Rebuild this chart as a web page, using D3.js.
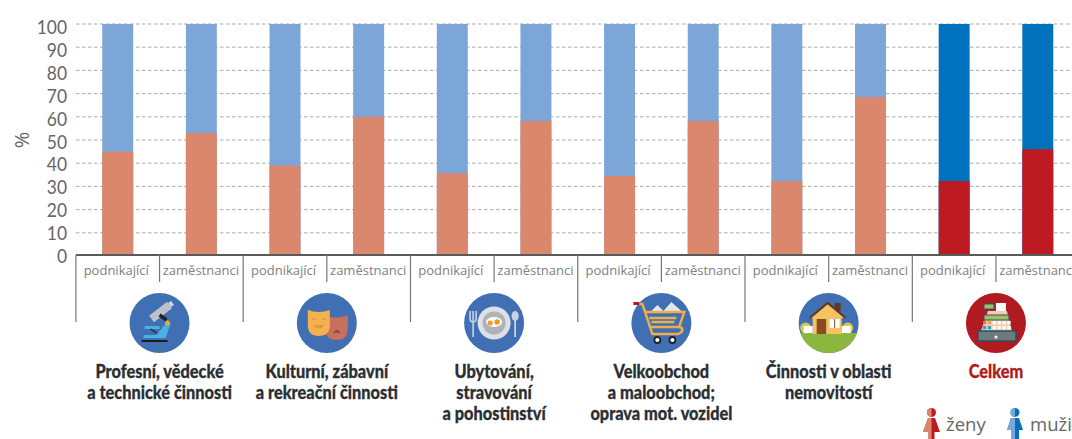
<!DOCTYPE html>
<html>
<head>
<meta charset="utf-8">
<script src="https://cdn.jsdelivr.net/npm/d3@7"></script>
<style>
  html, body { margin: 0; padding: 0; background: #fff; overflow: hidden; }
  svg { display: block; }
  text { font-family: "Open Sans", "Noto Sans", sans-serif; }
  text.lato { font-family: Lato, "Open Sans", sans-serif; }
</style>
</head>
<body>
<svg id="chart"></svg>
<script>
let width = 1072,
    height = 439;

const groups = [
    ["Profesní, vědecké", "a technické činnosti"],
    ["Kulturní, zábavní", "a rekreační činnosti"],
    ["Ubytování,", "stravování", "a pohostinství"],
    ["Velkoobchod", "a maloobchod;", "oprava mot. vozidel"],
    ["Činnosti v oblasti", "nemovitostí"],
    ["Celkem"],
];
const subLabels = ["podnikající", "zaměstnanci"];
const women = [45, 53, 39, 60, 35.7, 58.2, 34.5, 58.2, 32.3, 68.5, 32.3, 46];
const yTicks = [0, 10, 20, 30, 40, 50, 60, 70, 80, 90, 100];

const svg = d3.select("#chart").attr("width", width).attr("height", height);

const x = d3.scaleBand()
    .domain(d3.range(women.length))
    .range([75.9, 1079.6])
    .paddingInner(0.63)
    .paddingOuter(0.315);
const y = d3.scaleLinear().domain([0, 100]).range([256, 24]);
// the tick labels sit on a slightly tighter scale than the gridlines in the original
const yLabel = d3.scaleLinear().domain([0, 100]).range([263, 34]);

const step = x.step();
const left = i => x(i) - (step - x.bandwidth()) / 2;

// Gridlines
svg.append("g")
    .selectAll("line")
    .data(yTicks.slice(1))
    .enter()
    .append("line")
    .attr("x1", 76)
    .attr("x2", 1070)
    .attr("y1", d => y(d))
    .attr("y2", d => y(d))
    .attr("stroke", "#aaa")
    .attr("stroke-dasharray", "3.5 2.5");

// Stacked bars, muted for sectors, saturated for the total
const isTotal = i => i >= 10;
const bars = svg.append("g").selectAll("g").data(women).enter().append("g");
bars.append("rect")
    .attr("x", (d, i) => x(i))
    .attr("width", x.bandwidth())
    .attr("y", y(100))
    .attr("height", y(0) - y(100))
    .attr("fill", (d, i) => (isTotal(i) ? "#0071bc" : "#7ca5d8"));
bars.append("rect")
    .attr("x", (d, i) => x(i))
    .attr("width", x.bandwidth())
    .attr("y", d => y(d))
    .attr("height", d => y(0) - y(d))
    .attr("fill", (d, i) => (isTotal(i) ? "#bd1b21" : "#db876e"));

// Y tick labels, narrowed to the original's proportions
svg.append("g")
    .selectAll("text")
    .data(yTicks)
    .enter()
    .append("text")
    .attr("class", "lato")
    .attr("transform", d => `translate(67,${yLabel(d)}) scale(0.87,1)`)
    .attr("text-anchor", "end")
    .attr("font-size", 20)
    .attr("fill", "#666")
    .text(d => d);

svg.append("text")
    .attr("transform", "translate(29,140) rotate(-90)")
    .attr("text-anchor", "middle")
    .attr("font-size", 20)
    .attr("fill", "#666")
    .text("%");

// Axis line and separators
svg.append("line")
    .attr("x1", 76).attr("x2", 1072)
    .attr("y1", 255).attr("y2", 255)
    .attr("stroke", "#5a5a5a").attr("stroke-width", 2);

svg.append("g")
    .selectAll("line")
    .data(d3.range(women.length))
    .enter()
    .append("line")
    .attr("x1", i => left(i))
    .attr("x2", i => left(i))
    .attr("y1", 255)
    .attr("y2", i => (i % 2 == 0 ? 322 : 282))
    .attr("stroke", "#777")
    .attr("stroke-width", 1.2);

svg.append("g")
    .selectAll("text")
    .data(d3.range(women.length))
    .enter()
    .append("text")
    .attr("x", i => x(i) + x.bandwidth() / 2 + (i % 2 == 0 ? -1.5 : -0.5))
    .attr("y", 275)
    .attr("text-anchor", "middle")
    .attr("font-size", 13)
    .attr("fill", "#808080")
    .text(i => subLabels[i % 2]);

// Icons
const blue = "#416fb4";
const iconFns = [
    g => {
        g.append("line").attr("x1", -8).attr("y1", -4).attr("x2", 10).attr("y2", -18)
            .attr("stroke", "#bcc2cc").attr("stroke-width", 8);
        g.append("line").attr("x1", 10).attr("y1", -18).attr("x2", 13).attr("y2", -20)
            .attr("stroke", "#d5d8de").attr("stroke-width", 5);
        g.append("line").attr("x1", 0).attr("y1", -8).attr("x2", 7).attr("y2", -3)
            .attr("stroke", "#222").attr("stroke-width", 3.5);
        g.append("path").attr("d", "M8,-2 L11,1 L6,15 L-16,15 L-16,12 L-3,12 Z").attr("fill", "#4bb0e3");
        g.append("rect").attr("x", -15).attr("y", 3).attr("width", 15).attr("height", 3).attr("fill", "#4bb0e3");
        g.append("line").attr("x1", -9).attr("y1", 6).attr("x2", -3).attr("y2", 10)
            .attr("stroke", "#222").attr("stroke-width", 1.5);
        g.append("circle").attr("cx", 8).attr("cy", 0).attr("r", 2.5).attr("fill", "#f0a830");
        g.append("rect").attr("x", -18).attr("y", 17).attr("width", 26).attr("height", 2).attr("fill", "#1c1c1c");
    },
    g => {
        g.append("path").attr("d", "M-2,-8 Q10,-3 21,-8 L21,5 Q21,17 10,17 Q-2,17 -2,5 Z").attr("fill", "#c8705c");
        g.append("path").attr("d", "M6,10 Q10,3 14,10 Z").attr("fill", "#9a4a3c");
        g.append("path").attr("d", "M-19,-13 Q-8,-9 3,-13 L3,2 Q3,13 -8,13 Q-19,13 -19,2 Z").attr("fill", "#f5b14f");
        g.append("path").attr("d", "M-14,2 Q-8,9 -2,2 Z").attr("fill", "#d99a3e");
        g.append("path").attr("d", "M-15,-4 L-11,-4 M-5,-4 L-1,-4").attr("stroke", "#d99a3e").attr("stroke-width", 1.5);
    },
    g => {
        g.append("circle").attr("r", 16.5).attr("fill", "#dde0e5");
        g.append("circle").attr("r", 11.5).attr("fill", "#aeb3ba");
        g.append("ellipse").attr("cx", 0).attr("cy", -1).attr("rx", 8).attr("ry", 5).attr("fill", "#fff");
        g.append("circle").attr("cx", -4).attr("cy", 0).attr("r", 2.6).attr("fill", "#ef9a2a");
        g.append("circle").attr("cx", 3).attr("cy", -1).attr("r", 2.8).attr("fill", "#ef9a2a");
        g.append("path").attr("d", "M-24,-12 V-4 Q-24,-1 -21,-1 Q-18,-1 -18,-4 V-12 M-21,-12 V14")
            .attr("fill", "none").attr("stroke", "#c9d3e6").attr("stroke-width", 1.6);
        g.append("ellipse").attr("cx", 21).attr("cy", -7).attr("rx", 3.6).attr("ry", 5).attr("fill", "#c9d3e6");
        g.append("line").attr("x1", 21).attr("x2", 21).attr("y1", -3).attr("y2", 14)
            .attr("stroke", "#c9d3e6").attr("stroke-width", 1.8);
    },
    g => {
        g.append("path").attr("d", "M-11,-11 L-4,-18 L2,-12 L10,-21 L21,-11 Z").attr("fill", "#e4e7ee");
        g.append("path").attr("d", "M-23,-19 H-19 L-9,11 H17 Q21,9 21,7 Q21,4 17,4 H-12 M-17,-11 H23 L18,3")
            .attr("fill", "none").attr("stroke", "#f0ae4a").attr("stroke-width", 2.4);
        g.append("path").attr("d", "M-12,-5 H15 M-10,-1 H13").attr("stroke", "#f0ae4a").attr("stroke-width", 2.4);
        g.append("rect").attr("x", -28).attr("y", -21).attr("width", 6).attr("height", 3).attr("fill", "#b01a20");
        [-4, 11].forEach(cx => {
            g.append("circle").attr("cx", cx).attr("cy", 17).attr("r", 3).attr("fill", "#fff")
                .attr("stroke", "#222").attr("stroke-width", 1.8);
        });
    },
    g => {
        g.append("path").attr("d", "M-28.3,10 H28.3 A30,30 0 0 1 -28.3,10 Z").attr("fill", "#8bb63f");
        g.append("circle").attr("cx", -23).attr("cy", 5).attr("r", 5.5).attr("fill", "#dac94a");
        g.append("circle").attr("cx", 19).attr("cy", 5).attr("r", 5.5).attr("fill", "#dac94a");
        g.append("rect").attr("x", 6).attr("y", -20).attr("width", 6).attr("height", 8).attr("fill", "#5e3b20");
        g.append("rect").attr("x", -16).attr("y", -7).attr("width", 29).attr("height", 18).attr("fill", "#f7c263");
        g.append("path").attr("d", "M-19,-5 L-1,-20 L17,-5").attr("fill", "#f7c263").attr("stroke", "#5e3b20").attr("stroke-width", 2.2);
        g.append("rect").attr("x", -12).attr("y", -4).attr("width", 9.5).attr("height", 15).attr("fill", "#8b4a20");
        g.append("rect").attr("x", 1).attr("y", -4).attr("width", 10).attr("height", 9).attr("fill", "#fff");
        g.append("line").attr("x1", 6).attr("x2", 6).attr("y1", -4).attr("y2", 5).attr("stroke", "#6a5030");
        [-25, 13].forEach(fx => {
            g.append("rect").attr("x", fx).attr("y", 3).attr("width", 9).attr("height", 7).attr("fill", "#fff");
        });
    },
    g => {
        g.append("rect").attr("x", -12).attr("y", -19).attr("width", 10).attr("height", 5).attr("fill", "#a6bd6a")
            .attr("stroke", "#2f5560").attr("stroke-width", 1);
        g.append("rect").attr("x", 0).attr("y", -20).attr("width", 10).attr("height", 9).attr("fill", "#fff");
        g.append("path").attr("d", "M-8,-12 H11 L16,8 H-15 Z").attr("fill", "#f3cdb4");
        g.append("rect").attr("x", -12).attr("y", -8).attr("width", 25).attr("height", 5).attr("fill", "#a6bd6a")
            .attr("stroke", "#2f5560").attr("stroke-width", 1);
        const keys = ["#d8775a", "#f0a040", "#fff", "#fff", "#fff", "#fff", "#1ca7d8", "#1ca7d8", "#fff", "#fff", "#fff", "#fff"];
        keys.forEach((c, i) => {
            g.append("rect").attr("x", -13 + (i % 6) * 4.9).attr("y", i < 6 ? -2 : 3)
                .attr("width", 3.2).attr("height", 3.2).attr("fill", c);
        });
        g.append("rect").attr("x", -18).attr("y", 8).attr("width", 38).attr("height", 10).attr("fill", "#6d7b80")
            .attr("stroke", "#27505f").attr("stroke-width", 1.5);
        g.append("circle").attr("cx", 0).attr("cy", 14).attr("r", 1.5).attr("fill", "#fff");
    },
];

const groupX = i => left(i * 2 + 1);
const icons = svg.append("g")
    .selectAll("g")
    .data(groups)
    .enter()
    .append("g")
    .attr("transform", (d, i) => `translate(${groupX(i)},323)`);
icons.append("circle").attr("r", 30).attr("fill", (d, i) => (i == 5 ? "#b01a20" : blue));
icons.each(function (d, i) {
    iconFns[i](d3.select(this));
});

// Group titles, squeezed because no condensed bold font is available
groups.forEach((lines, i) => {
    lines.forEach((line, j) => {
        svg.append("text")
            .attr("class", "lato")
            .attr("transform", `translate(${groupX(i)},${378 + j * 21}) scale(0.86,1)`)
            .attr("text-anchor", "middle")
            .attr("font-size", 19)
            .attr("font-weight", 900)
            .attr("stroke", i == 5 ? "#b01a20" : "#2b2f33")
            .attr("stroke-width", 0.3)
            .attr("fill", i == 5 ? "#b01a20" : "#2b2f33")
            .text(line);
    });
});

// Legend
const legend = [
    { label: "ženy", cx: 931.5, tx: 946, light: "#db876e", dark: "#bd1b21", path: "M-3.5,10 L-8.5,24 L-3,24 L-3,31 L3,31 L3,24 L8.5,24 L3.5,10 Z" },
    { label: "muži", cx: 1015, tx: 1030, light: "#7ca5d8", dark: "#0071bc", path: "M-4,10 L-8,22 L-4,22 L-4,31 L4,31 L4,22 L8,22 L4,10 Z" },
];
legend.forEach((d, i) => {
    const g = svg.append("g").attr("transform", `translate(${d.cx},408)`);
    const clipId = "half" + i;
    g.append("clipPath").attr("id", clipId).append("rect").attr("x", -10).attr("y", 0).attr("width", 10).attr("height", 32);
    g.append("path").attr("d", d.path).attr("fill", d.dark);
    g.append("circle").attr("cy", 4.5).attr("r", 4.5).attr("fill", d.dark);
    const l = g.append("g").attr("clip-path", `url(#${clipId})`);
    l.append("path").attr("d", d.path).attr("fill", d.light);
    l.append("circle").attr("cy", 4.5).attr("r", 4.5).attr("fill", d.light);
    svg.append("text")
        .attr("x", d.tx)
        .attr("y", 431)
        .attr("font-size", 18.5)
        .attr("fill", "#666")
        .text(d.label);
});
</script>
</body>
</html>
